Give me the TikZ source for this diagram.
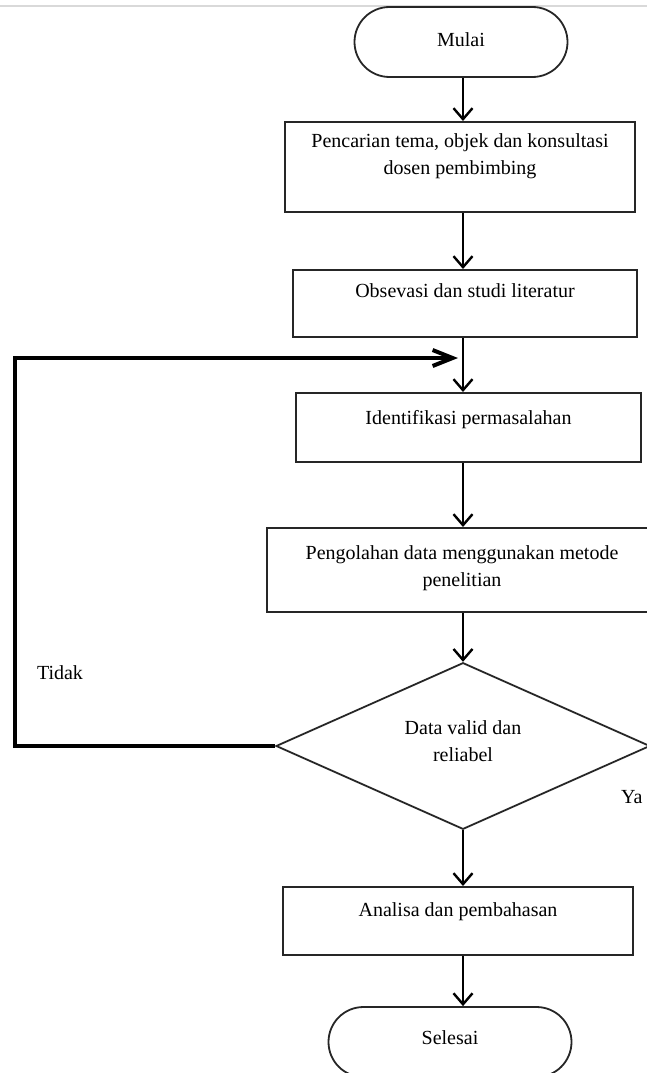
\documentclass[tikz,border=0pt]{standalone}
\usepackage{fontspec}
\setmainfont{Liberation Serif}
\usetikzlibrary{shapes.geometric,arrows.meta}

\begin{document}
\begin{tikzpicture}[x=1pt, y=-1pt, font=\fontsize{20}{27}\selectfont]
\tikzstyle{proses} = [draw=black!85, line width=2pt, rectangle, align=center, inner sep=0pt, text height=13pt]
\tikzstyle{proses2} = [proses, text height=40pt]
\tikzstyle{ujung} = [draw=black!85, line width=1.8pt, rectangle, rounded corners=35pt, minimum height=70pt, inner sep=0pt, text height=13pt]
\tikzstyle{putusan} = [draw=black!85, line width=1.8pt, diamond, minimum width=374pt, minimum height=162pt, align=center, inner sep=0pt, text height=40pt]
\tikzstyle{panah} = [line width=2.4pt, -{Straight Barb[length=11pt,width=19pt]}]
\tikzstyle{balik} = [line width=4pt, -{Straight Barb[length=20pt,width=16pt]}]

\useasboundingbox (0,0) rectangle (647,1073);
\draw[gray!30, line width=2pt] (0,6) -- (647,6);

\node[ujung, minimum width=213pt, text depth=3pt] (mulai) at (461,42) {Mulai};
\node[proses2, minimum width=350pt, minimum height=90pt, text depth=26pt] (cari) at (460,167)
    {Pencarian tema, objek dan konsultasi\\dosen pembimbing};
\node[proses, minimum width=344pt, minimum height=67pt, text depth=26pt] (obs) at (465,303.5)
    {Obsevasi dan studi literatur};
\node[proses, minimum width=345pt, minimum height=69pt, text depth=20pt] (ident) at (468.5,427.5)
    {Identifikasi permasalahan};
\node[proses2, minimum width=390pt, minimum height=84pt, text depth=8pt] (olah) at (462,570)
    {Pengolahan data menggunakan metode\\penelitian};
\node[putusan, text depth=10pt] (cek) at (463,746) {Data valid dan\\reliabel};
\node[proses, minimum width=350pt, minimum height=68pt, text depth=23pt] (analisa) at (458,921)
    {Analisa dan pembahasan};
\node[ujung, minimum width=243pt, text depth=9pt] (selesai) at (450,1042) {Selesai};

\node (tidak) at (60,673) {Tidak};
\node[anchor=west, inner sep=0pt] (ya) at (621,797) {Ya};

\coordinate (kol) at (463,0);
\coordinate (kiri) at (15,0);
\coordinate (temu) at (463,358);

\draw[panah] (mulai.south -| kol) -- (cari.north -| kol);
\draw[panah] (cari.south -| kol) -- (obs.north -| kol);
\draw[panah] (obs.south -| kol) -- (ident.north -| kol);
\draw[panah] (ident.south -| kol) -- (olah.north -| kol);
\draw[panah] (olah.south -| kol) -- (cek.north);
\draw[panah] (cek.south) -- (analisa.north -| kol);
\draw[panah] (analisa.south -| kol) -- (selesai.north -| kol);
\draw[balik, shorten >=5pt] (cek.west) -- (cek.west -| kiri) |- (temu);
\end{tikzpicture}
\end{document}
